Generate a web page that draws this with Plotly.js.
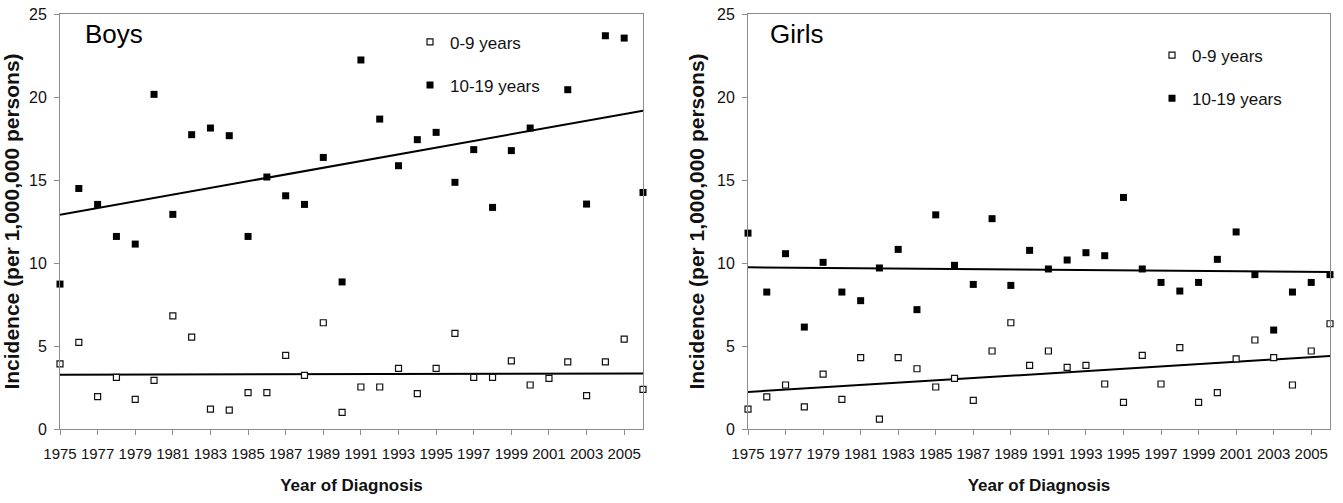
<!DOCTYPE html>
<html>
<head>
<meta charset="utf-8">
<script src="https://cdn.plot.ly/plotly-3.0.1.min.js"></script>
<style>
  html, body { margin: 0; padding: 0; background: #ffffff; }
  #chart { width: 1343px; height: 503px; }
</style>
</head>
<body>
<div id="chart"></div>
<script>
// ---- Data ----
const years = [1975, 1976, 1977, 1978, 1979, 1980, 1981, 1982, 1983, 1984,
               1985, 1986, 1987, 1988, 1989, 1990, 1991, 1992, 1993, 1994,
               1995, 1996, 1997, 1998, 1999, 2000, 2001, 2002, 2003, 2004,
               2005, 2006];

// Boys, 0-9 years (open squares)
const boysYoung = [3.92, 5.22, 1.95, 3.11, 1.78, 2.93, 6.81, 5.54, 1.20, 1.14,
                   2.19, 2.19, 4.43, 3.23, 6.40, 1.00, 2.53, 2.53, 3.65, 2.13,
                   3.65, 5.76, 3.11, 3.11, 4.10, 2.65, 3.05, 4.04, 2.01, 4.04,
                   5.42, 2.39];
// Boys, 10-19 years (filled squares); no point drawn for 2001
const boysOld = [8.73, 14.49, 13.53, 11.60, 11.14, 20.16, 12.93, 17.73, 18.13, 17.67,
                 11.60, 15.18, 14.05, 13.53, 16.36, 8.86, 22.23, 18.67, 15.86, 17.43,
                 17.87, 14.86, 16.83, 13.35, 16.77, 18.13, null, 20.44, 13.55, 23.69,
                 23.55, 14.25];

// Girls, 0-9 years (open squares)
const girlsYoung = [1.20, 1.93, 2.65, 1.33, 3.31, 1.78, 4.30, 0.60, 4.30, 3.63,
                    2.53, 3.05, 1.72, 4.70, 6.40, 3.83, 4.70, 3.71, 3.83, 2.71,
                    1.60, 4.43, 2.71, 4.90, 1.60, 2.19, 4.23, 5.36, 4.30, 2.65,
                    4.70, 6.34];
// Girls, 10-19 years (filled squares)
const girlsOld = [11.80, 8.25, 10.56, 6.14, 10.04, 8.25, 7.73, 9.70, 10.82, 7.19,
                  12.90, 9.86, 8.71, 12.67, 8.65, 10.76, 9.64, 10.18, 10.62, 10.44,
                  13.95, 9.64, 8.83, 8.31, 8.83, 10.22, 11.87, 9.30, 5.96, 8.25,
                  8.83, 9.30];

// Linear trend lines (end values)
const trendYears = [1975, 2006];
const boysYoungTrend = [3.27, 3.35];
const boysOldTrend = [12.91, 19.17];
const girlsYoungTrend = [2.23, 4.40];
const girlsOldTrend = [9.74, 9.46];

const seriesNames = ['0-9 years', '10-19 years'];
const tickYears = [1975, 1977, 1979, 1981, 1983, 1985, 1987, 1989, 1991, 1993,
                   1995, 1997, 1999, 2001, 2003, 2005];

// ---- Styles ----
const FONT = 'Liberation Sans, Arial, Helvetica, sans-serif';
const openMarker = { symbol: 'square', size: 6, color: '#ffffff', line: { color: '#111111', width: 1.2 } };
const fillMarker = { symbol: 'square', size: 7, color: '#000000', line: { color: '#000000', width: 0 } };
const trendLine = { color: '#000000', width: 2 };

function pts(x, y, name, marker, xa, ya, legend, group) {
  return { type: 'scatter', mode: 'markers', x: x, y: y, name: name, marker: marker,
           xaxis: xa, yaxis: ya, legend: legend, legendgroup: group, cliponaxis: false,
           hoverinfo: 'x+y' };
}
function trend(x, y, xa, ya) {
  return { type: 'scatter', mode: 'lines', x: x, y: y, line: trendLine,
           xaxis: xa, yaxis: ya, showlegend: false, hoverinfo: 'skip' };
}

const data = [
  trend(trendYears, boysYoungTrend, 'x', 'y'),
  trend(trendYears, boysOldTrend, 'x', 'y'),
  pts(years, boysYoung, seriesNames[0], openMarker, 'x', 'y', 'legend', 'b1'),
  pts(years, boysOld, seriesNames[1], fillMarker, 'x', 'y', 'legend', 'b2'),
  trend(trendYears, girlsYoungTrend, 'x2', 'y2'),
  trend(trendYears, girlsOldTrend, 'x2', 'y2'),
  pts(years, girlsYoung, seriesNames[0], openMarker, 'x2', 'y2', 'legend2', 'g1'),
  pts(years, girlsOld, seriesNames[1], fillMarker, 'x2', 'y2', 'legend2', 'g2')
];

const W = 1343;
function xAxis(domain, standoff) {
  return {
    domain: domain, range: [1975, 2006], tickmode: 'array', tickvals: tickYears,
    ticktext: tickYears.map(String), tickangle: 0,
    ticks: 'outside', ticklen: 5, tickcolor: '#8c8c8c', tickwidth: 1,
    showline: true, linecolor: '#8c8c8c', linewidth: 1, mirror: true,
    showgrid: false, zeroline: false,
    tickfont: { family: FONT, size: 15, color: '#111111' },
    ticklabelstandoff: 6,
    title: { text: 'Year of Diagnosis', standoff: standoff,
             font: { family: FONT, size: 17, color: '#111111', weight: 'bold' } }
  };
}
function yAxis(anchor, standoff) {
  return {
    anchor: anchor, domain: [0, 1], range: [0, 25], tickmode: 'linear', tick0: 0, dtick: 5,
    ticks: 'outside', ticklen: 5, tickcolor: '#8c8c8c', tickwidth: 1,
    showline: true, linecolor: '#8c8c8c', linewidth: 1, mirror: true,
    showgrid: false, zeroline: false,
    tickfont: { family: FONT, size: 16, color: '#111111' },
    ticklabelstandoff: 4,
    title: { text: 'Incidence (per 1,000,000 persons)', standoff: standoff,
             font: { family: FONT, size: 21, color: '#111111', weight: 'bold' } }
  };
}

const layout = {
  width: 1343, height: 503,
  margin: { l: 0, r: 0, t: 14, b: 74, pad: 0 },
  paper_bgcolor: '#ffffff', plot_bgcolor: '#ffffff',
  font: { family: FONT, color: '#111111' },
  showlegend: true,
  xaxis: xAxis([60 / W, 643 / W], 18),
  yaxis: yAxis('x', 4),
  xaxis2: Object.assign(xAxis([748 / W, 1330 / W], 18), { anchor: 'y2' }),
  yaxis2: yAxis('x2', 6),
  legend: {
    x: 410 / W, y: 0.975, xanchor: 'left', yanchor: 'top',
    bgcolor: 'rgba(0,0,0,0)', borderwidth: 0, tracegroupgap: 18,
    font: { family: FONT, size: 17, color: '#111111' }, itemwidth: 30
  },
  legend2: {
    x: 1152 / W, y: 0.943, xanchor: 'left', yanchor: 'top',
    bgcolor: 'rgba(0,0,0,0)', borderwidth: 0, tracegroupgap: 18,
    font: { family: FONT, size: 17, color: '#111111' }, itemwidth: 30
  },
  annotations: [
    { text: 'Boys', xref: 'paper', yref: 'paper', x: 83 / W, y: (429 - 34) / 415,
      xanchor: 'left', yanchor: 'middle', showarrow: false,
      font: { family: FONT, size: 26, color: '#000000' } },
    { text: 'Girls', xref: 'paper', yref: 'paper', x: 768 / W, y: (429 - 34) / 415,
      xanchor: 'left', yanchor: 'middle', showarrow: false,
      font: { family: FONT, size: 26, color: '#000000' } }
  ]
};

Plotly.newPlot('chart', data, layout, { displayModeBar: false, staticPlot: true });
</script>
</body>
</html>
